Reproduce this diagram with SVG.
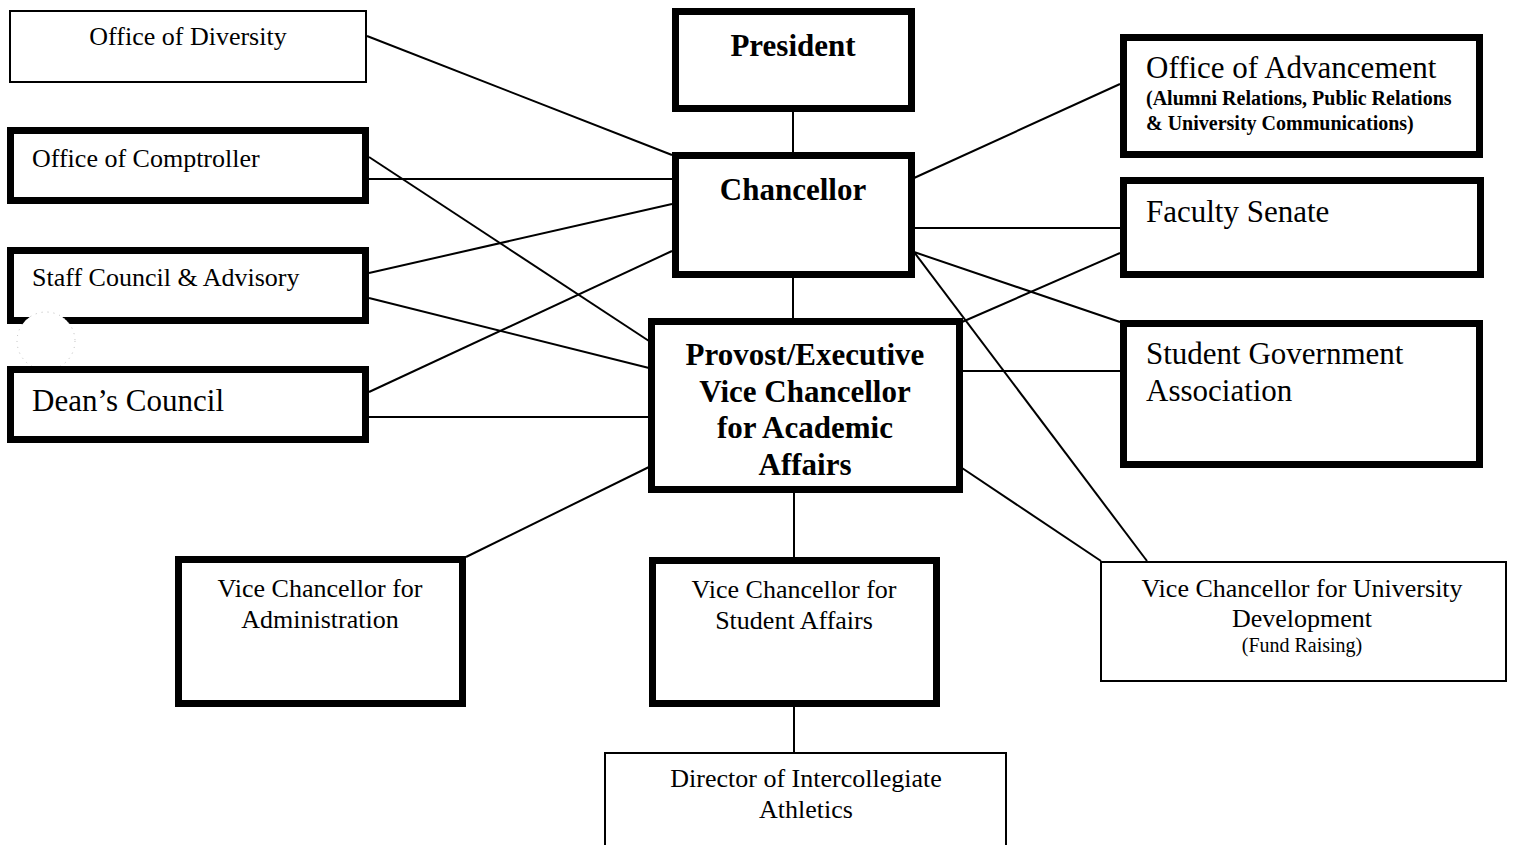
<svg xmlns="http://www.w3.org/2000/svg" width="1513" height="845" viewBox="0 0 1513 845">
<style>
.thin{fill:#fff;stroke:#000;stroke-width:2}
.thick{fill:#fff;stroke:#000;stroke-width:7}
.t{font-family:"Liberation Serif","Times New Roman",serif;fill:#000}
.r26{font-size:26px}
.r31{font-size:31px}
.b31{font-size:31px;font-weight:bold}
.s20{font-size:20px}
.c{text-anchor:middle}
#connectors line{stroke:#000;stroke-width:2}
</style>
<rect width="1513" height="845" fill="#fff"/>
<g id="connectors">
<line x1="367" y1="36" x2="672" y2="155"/>
<line x1="369" y1="157" x2="649" y2="341"/>
<line x1="369" y1="179" x2="672" y2="179"/>
<line x1="369" y1="273" x2="672" y2="204"/>
<line x1="369" y1="298" x2="649" y2="368"/>
<line x1="369" y1="392" x2="672" y2="251"/>
<line x1="369" y1="417" x2="649" y2="417"/>
<line x1="793" y1="111" x2="793" y2="152"/>
<line x1="793" y1="276" x2="793" y2="319"/>
<line x1="914" y1="178" x2="1120" y2="84"/>
<line x1="914" y1="228" x2="1120" y2="228"/>
<line x1="914" y1="252" x2="1120" y2="322"/>
<line x1="914" y1="252" x2="1147" y2="561"/>
<line x1="1120" y1="253" x2="962" y2="322"/>
<line x1="962" y1="371" x2="1120" y2="371"/>
<line x1="962" y1="468" x2="1101" y2="561"/>
<line x1="649" y1="467" x2="466" y2="557"/>
<line x1="794" y1="492" x2="794" y2="557"/>
<line x1="794" y1="706" x2="794" y2="752"/>
</g>
<g id="office-diversity">
<rect class="thin" x="10" y="11" width="356" height="71"/>
<text class="t r26 c" x="188" y="45">Office of Diversity</text>
</g>
<g id="office-comptroller">
<rect class="thick" x="10.5" y="130.5" width="355" height="70"/>
<text class="t r26" x="32" y="167">Office of Comptroller</text>
</g>
<g id="staff-council">
<rect class="thick" x="10.5" y="250.5" width="355" height="70"/>
<text class="t r26" x="32" y="286">Staff Council &amp; Advisory</text>
</g>
<circle cx="46" cy="341" r="29" fill="#fff" stroke="#bbb" stroke-width="1" stroke-dasharray="1 5"/>
<g id="deans-council">
<rect class="thick" x="10.5" y="369.5" width="355" height="70"/>
<text class="t r31" x="32" y="411">Dean’s Council</text>
</g>
<g id="president">
<rect class="thick" x="675.5" y="11.5" width="236" height="97"/>
<text class="t b31 c" x="793" y="56">President</text>
</g>
<g id="chancellor">
<rect class="thick" x="675.5" y="155.5" width="236" height="119"/>
<text class="t b31 c" x="793" y="200">Chancellor</text>
</g>
<g id="provost">
<rect class="thick" x="651.5" y="321.5" width="308" height="168"/>
<text class="t b31 c" x="805" y="365">Provost/Executive</text>
<text class="t b31 c" x="805" y="402">Vice Chancellor</text>
<text class="t b31 c" x="805" y="438">for Academic</text>
<text class="t b31 c" x="805" y="475">Affairs</text>
</g>
<g id="office-advancement">
<rect class="thick" x="1123.5" y="37.5" width="356" height="117"/>
<text class="t r31" x="1146" y="78">Office of Advancement</text>
<text class="t s20" x="1146" y="105" font-weight="bold">(Alumni Relations, Public Relations</text>
<text class="t s20" x="1146" y="130" font-weight="bold">&amp; University Communications)</text>
</g>
<g id="faculty-senate">
<rect class="thick" x="1123.5" y="180.5" width="357" height="94"/>
<text class="t r31" x="1146" y="222">Faculty Senate</text>
</g>
<g id="student-government">
<rect class="thick" x="1123.5" y="323.5" width="356" height="141"/>
<text class="t r31" x="1146" y="364">Student Government</text>
<text class="t r31" x="1146" y="401">Association</text>
</g>
<g id="vc-administration">
<rect class="thick" x="178.5" y="559.5" width="284" height="144"/>
<text class="t r26 c" x="320" y="597">Vice Chancellor for</text>
<text class="t r26 c" x="320" y="628">Administration</text>
</g>
<g id="vc-student-affairs">
<rect class="thick" x="652.5" y="560.5" width="284" height="143"/>
<text class="t r26 c" x="794" y="598">Vice Chancellor for</text>
<text class="t r26 c" x="794" y="629">Student Affairs</text>
</g>
<g id="vc-university-development">
<rect class="thin" x="1101" y="562" width="405" height="119"/>
<text class="t r26 c" x="1302" y="597">Vice Chancellor for University</text>
<text class="t r26 c" x="1302" y="627">Development</text>
<text class="t s20 c" x="1302" y="652">(Fund Raising)</text>
</g>
<g id="director-athletics">
<rect class="thin" x="605" y="753" width="401" height="110"/>
<text class="t r26 c" x="806" y="787">Director of Intercollegiate</text>
<text class="t r26 c" x="806" y="818">Athletics</text>
</g>
</svg>
